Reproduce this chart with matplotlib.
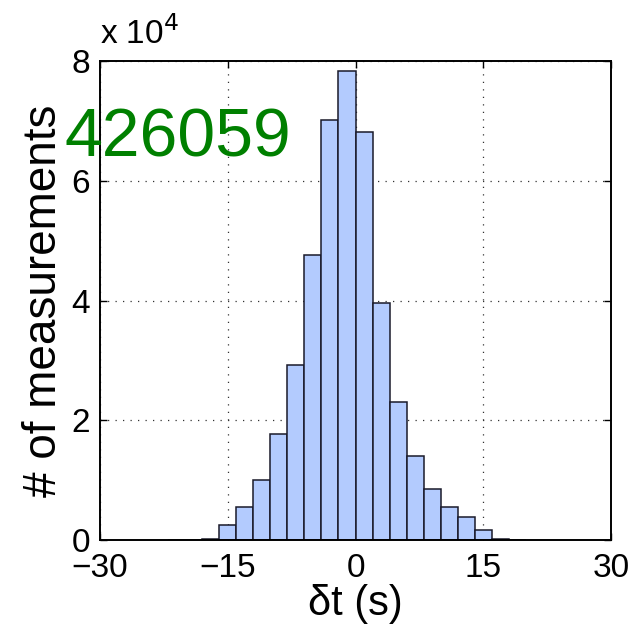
import numpy as np
import matplotlib
matplotlib.use('Agg')
import matplotlib.pyplot as plt

# Histogram of time offsets, 2 s bins
bin_edges = [-22, -20, -18, -16, -14, -12, -10, -8, -6, -4, -2, 0,
             2, 4, 6, 8, 10, 12, 14, 16, 18, 20]
counts = [40, 90, 200, 2600, 5560, 10000, 17650, 29160, 47630, 70100,
          78300, 68200, 39600, 23100, 14000, 8460, 5560, 3900, 1670, 170, 69]

x_ticks = [-30, -15, 0, 15, 30]
x_tick_labels = ['\u221230', '\u221215', '0', '15', '30']
y_ticks = [0, 20000, 40000, 60000, 80000]
y_tick_labels = ['0', '2', '4', '6', '8']

plt.rcParams['font.family'] = ['Liberation Sans', 'DejaVu Sans']

fig = plt.figure(figsize=(6.32, 6.34), dpi=100)
ax = fig.add_axes([0.158, 0.148, 0.809, 0.756])

edges = np.array(bin_edges, dtype=float)
ax.bar(edges[:-1], counts, width=np.diff(edges), align='edge',
       color='#b3cbfe', edgecolor='#1a1a2a', linewidth=1.1, zorder=2)

ax.set_xlim(-30, 30)
ax.set_ylim(0, 80000)
ax.set_xticks(x_ticks)
ax.set_xticklabels(x_tick_labels)
ax.set_yticks(y_ticks)
ax.set_yticklabels(y_tick_labels)

ax.tick_params(direction='in', length=5, width=1, labelsize=24,
               top=True, right=True)
ax.tick_params(axis='x', pad=9)
ax.tick_params(axis='y', pad=7)
for s in ax.spines.values():
    s.set_linewidth(1.4)

ax.grid(True, color='#333333', linestyle=(0, (1, 5)), linewidth=0.9, zorder=1)
ax.set_axisbelow(True)

ax.set_xlabel('\u03b4t (s)', fontsize=30, labelpad=0)
ax.set_ylabel('# of measurements', fontsize=33, labelpad=4)

# scale factor for the y axis
ax.text(0.0, 1.02, r'x 10$^{4}$', transform=ax.transAxes, fontsize=24,
        ha='left', va='bottom')

# total number of measurements
ax.text(-0.07, 0.80, str(sum(counts)), transform=ax.transAxes,
        fontsize=49, color='#008000', ha='left', va='baseline', zorder=3)

plt.savefig('out.png', dpi=100)
